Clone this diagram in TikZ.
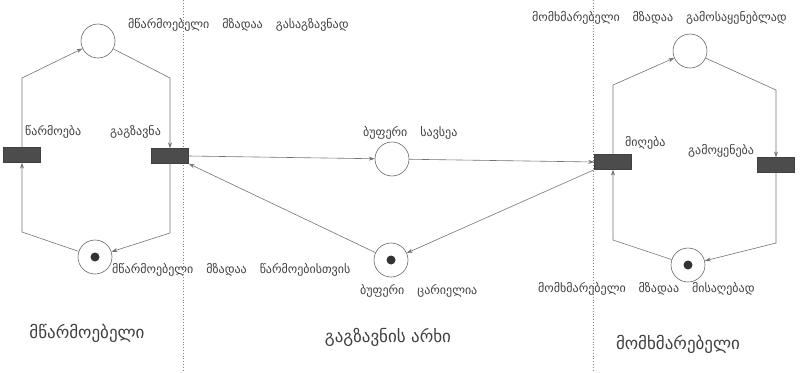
\documentclass[tikz,border=0pt]{standalone}
\usepackage{fontspec}
\newfontfamily\geo{DejaVu Sans}
\newcommand\geolbl{\geo\fontsize{12}{14}\selectfont\spaceskip=13pt plus 1pt\relax}
\usetikzlibrary{arrows.meta}

\begin{document}
\begin{tikzpicture}[
  x=1pt, y=-1pt,
  font=\geo\fontsize{12}{14}\selectfont,
  place/.style={
    draw=black!60,
    circle,
    minimum size=34pt,
    inner sep=0pt,
    line width=0.6pt
  },
  marked/.style={
    place,
    path picture={\fill[black!80] (path picture bounding box.center) circle (4.5pt);}
  },
  trans/.style={
    draw=black!75,
    fill=black!70,
    minimum width=37pt,
    minimum height=15pt,
    inner sep=0pt
  },
  arc/.style={
    draw=black!55,
    line width=0.6pt,
    -{Stealth[length=6pt,width=4pt]}
  },
  lbl/.style={text=black!75, inner sep=0pt, anchor=west, font=\geolbl},
  title/.style={text=black!75, inner sep=0pt, font=\geo\fontsize{17}{20}\selectfont},
  sep/.style={draw=black!50, dotted, line width=0.8pt}
]

\useasboundingbox (0,0) rectangle (800,372);

% Separators
\draw[sep] (183,0) -- (183,372);
\draw[sep] (593,0) -- (593,372);

% Producer
\node[place]  (pReadySend) at (98,41) {};
\node[marked] (pReadyProd) at (95,257) {};
\node[trans]  (tProd) at (22,155) {};
\node[trans]  (tSend) at (170,156) {};

% Channel
\node[place]  (pFull)  at (392,159) {};
\node[marked] (pEmpty) at (391,260) {};

% Consumer
\node[place]  (pReadyUse)  at (690,51) {};
\node[marked] (pReadyRecv) at (688,265) {};
\node[trans]  (tRecv) at (613,162) {};
\node[trans]  (tUse)  at (776,165) {};

% Corners
\coordinate (c1) at (22,78);
\coordinate (c2) at (170,78);
\coordinate (c3) at (22,232);
\coordinate (c4) at (170,233);
\coordinate (c5) at (613,85);
\coordinate (c6) at (776,90);
\coordinate (c7) at (613,240);
\coordinate (c8) at (776,243);

% Producer arcs
\draw[arc] (tProd.north) -- (c1) -- (pReadySend);
\draw[arc] (pReadySend) -- (c2) -- (tSend.north);
\draw[arc] (tSend.south) -- (c4) -- (pReadyProd);
\draw[arc] (pReadyProd) -- (c3) -- (tProd.south);

% Channel arcs
\draw[arc] (tSend.east) -- (pFull);
\draw[arc] (pFull) -- (tRecv.west);
\draw[arc] (tRecv.south west) -- (pEmpty);
\draw[arc] (pEmpty) -- (tSend.south east);

% Consumer arcs
\draw[arc] (tRecv.north) -- (c5) -- (pReadyUse);
\draw[arc] (pReadyUse) -- (c6) -- (tUse.north);
\draw[arc] (tUse.south) -- (c8) -- (pReadyRecv);
\draw[arc] (pReadyRecv) -- (c7) -- (tRecv.south);

% Labels
\node[lbl] (lReadySend) at (128,25) {მწარმოებელი მზადაა გასაგზავნად};
\node[lbl] (lProd) at (25,132) {წარმოება};
\node[lbl] (lSend) at (110,132) {გაგზავნა};
\node[lbl] (lFull) at (363,133) {ბუფერი სავსეა};
\node[lbl] (lReadyUse) at (532,18) {მომხმარებელი მზადაა გამოსაყენებლად};
\node[lbl] (lRecv) at (625,143) {მიღება};
\node[lbl] (lUse) at (688,151) {გამოყენება};
\node[lbl] (lReadyProd) at (112,270) {მწარმოებელი მზადაა წარმოებისთვის};
\node[lbl] (lEmpty) at (360,291) {ბუფერი ცარიელია};
\node[lbl] (lReadyRecv) at (538,289) {მომხმარებელი მზადაა მისაღებად};

% Titles
\node[title] (tiProd) at (87,333) {მწარმოებელი};
\node[title] (tiChan) at (388,337) {გაგზავნის არხი};
\node[title] (tiCons) at (678,344) {მომხმარებელი};

\end{tikzpicture}
\end{document}
